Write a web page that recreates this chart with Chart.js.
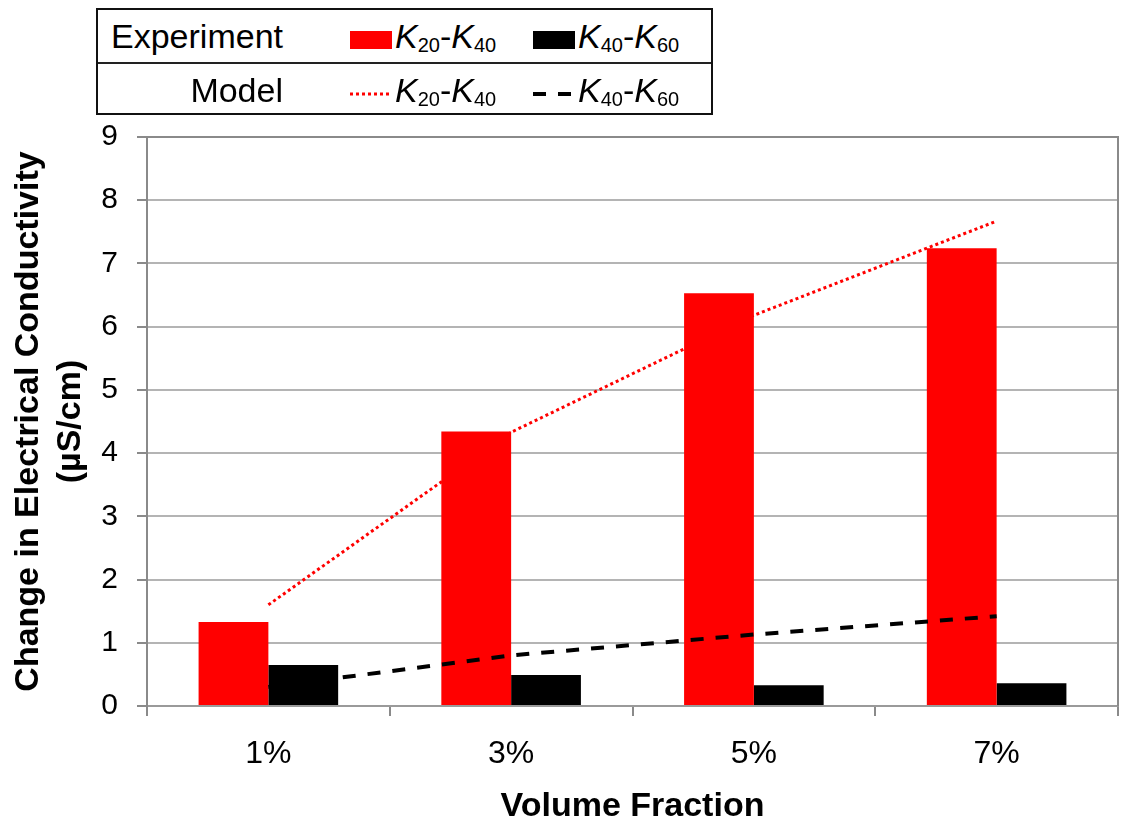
<!DOCTYPE html>
<html>
<head>
<meta charset="utf-8">
<title>Change in Electrical Conductivity vs Volume Fraction</title>
<script src="https://cdn.jsdelivr.net/npm/chart.js@4/dist/chart.umd.min.js"></script>
<style>
  html, body { margin: 0; padding: 0; background: #fff; }
  #wrap { position: relative; width: 1123px; height: 824px; overflow: hidden; }
  #chart { position: absolute; left: 0; top: 0; }
  #legend {
    position: absolute; left: 96px; top: 8px; width: 617px; height: 107px;
    box-sizing: border-box; border: 2.5px solid #111; background: #fff;
    font-family: 'Liberation Sans', Arial, sans-serif; color: #000;
  }
  .lrow { position: absolute; left: 0; width: 100%; height: 52px; }
  .lrow.second { top: 52px; border-top: 2px solid #222; }
  .lrow .name { position: absolute; left: 0; width: 185px; text-align: right;
    font-size: 34px; line-height: 52px; }
  .lrow .entry { position: absolute; top: 0; height: 52px; }
  .lrow .entry canvas { position: absolute; left: 0; top: 20px; }
  .lrow .entry .txt { position: absolute; left: 45px; top: 0; white-space: nowrap;
    font-size: 34px; line-height: 52px; }
  .txt i { font-style: italic; }
  .txt sub { font-size: 20px; vertical-align: -4px; line-height: 0; }
</style>
</head>
<body>
<div id="wrap">
  <canvas id="chart" width="1123" height="824"></canvas>
  <div id="legend"></div>
</div>
<script>
// Volume fractions on the x axis
const categories = ['1%', '3%', '5%', '7%'];

// Measured conductivity changes (µS/cm)
const expK20K40 = [1.33, 4.34, 6.53, 7.24];
const expK40K60 = [0.65, 0.49, 0.33, 0.36];

// Model predictions (µS/cm)
const modelK20K40 = [1.60, 4.33, 6.18, 7.67];
const modelK40K60 = [0.30, 0.80, 1.13, 1.42];

// Axis range and legend text
const yMin = 0, yMax = 9, yStep = 1;
const seriesNames = ['K20-K40', 'K40-K60'];
const legendRows = ['Experiment', 'Model'];

const FONT = "'Liberation Sans', Arial, sans-serif";
const RED = '#ff0000';
const BLACK = '#000000';

// Frame lines on the top and right of the plotting area
const frame = {
  id: 'frame',
  afterDraw(chart) {
    const { ctx, chartArea: a } = chart;
    ctx.save();
    ctx.strokeStyle = '#8a8a8a';
    ctx.lineWidth = 2;
    ctx.beginPath();
    ctx.moveTo(a.left, a.top);
    ctx.lineTo(a.right, a.top);
    ctx.lineTo(a.right, a.bottom);
    ctx.stroke();
    ctx.restore();
  }
};

const chart = new Chart(document.getElementById('chart'), {
  type: 'bar',
  data: {
    labels: categories,
    datasets: [
      { type: 'line', label: seriesNames[0], group: 'Model', data: modelK20K40,
        borderColor: RED, borderWidth: 3, borderDash: [3, 3], pointRadius: 0,
        fill: false, tension: 0, order: 0 },
      { type: 'line', label: seriesNames[1], group: 'Model', data: modelK40K60,
        borderColor: BLACK, borderWidth: 4, borderDash: [13, 12], pointRadius: 0,
        fill: false, tension: 0, order: 0 },
      { label: seriesNames[0], group: 'Experiment', data: expK20K40,
        backgroundColor: RED, borderWidth: 0, order: 1,
        categoryPercentage: 0.575, barPercentage: 1.0 },
      { label: seriesNames[1], group: 'Experiment', data: expK40K60,
        backgroundColor: BLACK, borderWidth: 0, order: 1,
        categoryPercentage: 0.575, barPercentage: 1.0 }
    ]
  },
  options: {
    responsive: false,
    animation: false,
    layout: { padding: { top: 137, right: 5, left: 0, bottom: 0 } },
    plugins: { legend: { display: false }, tooltip: { enabled: false } },
    scales: {
      x: {
        offset: true,
        grid: { display: true, drawOnChartArea: false, drawTicks: true, tickLength: 10,
                color: '#8a8a8a', lineWidth: 2, offset: true },
        border: { display: true, color: '#9a9a9a', width: 2 },
        ticks: { color: '#000', font: { family: FONT, size: 32 }, padding: 19, maxRotation: 0 },
        title: { display: true, text: 'Volume Fraction', color: '#000',
                 font: { family: FONT, size: 34, weight: 'bold', lineHeight: 1 },
                 padding: { top: 0, bottom: 0 } },
        afterFit(scale) { scale.height = 118; }
      },
      y: {
        min: yMin, max: yMax,
        grid: { color: '#b4b4b4', lineWidth: 2, tickLength: 10, tickColor: '#8a8a8a' },
        border: { display: true, color: '#8a8a8a', width: 2 },
        ticks: { stepSize: yStep, color: '#000', font: { family: FONT, size: 30 }, padding: 19 },
        title: { display: true, text: ['Change in Electrical Conductivity', '(µS/cm)'], color: '#000',
                 font: { family: FONT, size: 34, weight: 'bold', lineHeight: '42px' },
                 padding: { top: 8, bottom: 0 } },
        afterFit(scale) { scale.width = 147; }
      }
    }
  },
  plugins: [frame]
});

// Legend table built from the chart's datasets
function subscripted(name) {
  // "K20-K40" -> K<sub>20</sub>-K<sub>40</sub>
  return name.replace(/K(\d+)/g, '<i>K</i><sub>$1</sub>');
}
function symbol(ds) {
  const c = document.createElement('canvas');
  c.width = 42; c.height = 20;
  const g = c.getContext('2d');
  if (ds.type === 'line') {
    g.strokeStyle = ds.borderColor;
    g.lineWidth = ds.borderWidth;
    g.setLineDash(ds.borderDash || []);
    g.beginPath(); g.moveTo(0, 10); g.lineTo(42, 10); g.stroke();
  } else {
    g.fillStyle = ds.backgroundColor;
    g.fillRect(0, 1, 42, 18);
  }
  return c;
}
const legend = document.getElementById('legend');
const entryLeft = [252, 435];
legendRows.forEach((rowName, r) => {
  const row = document.createElement('div');
  row.className = 'lrow' + (r ? ' second' : '');
  const nm = document.createElement('div');
  nm.className = 'name'; nm.textContent = rowName;
  row.appendChild(nm);
  chart.data.datasets.filter(d => d.group === rowName).forEach(ds => {
    const k = seriesNames.indexOf(ds.label);
    const e = document.createElement('div');
    e.className = 'entry'; e.style.left = entryLeft[k] + 'px';
    e.appendChild(symbol(ds));
    const t = document.createElement('span');
    t.className = 'txt'; t.innerHTML = subscripted(ds.label);
    e.appendChild(t);
    row.appendChild(e);
  });
  legend.appendChild(row);
});
</script>
</body>
</html>
